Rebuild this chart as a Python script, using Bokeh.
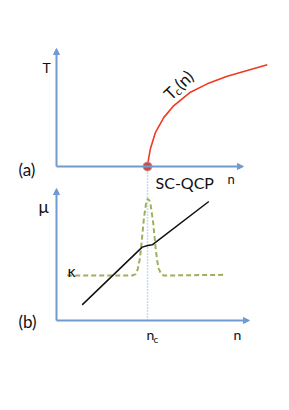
import math
from bokeh.plotting import figure
from bokeh.models import Range1d, Arrow, NormalHead
from bokeh.core.properties import value
from bokeh.embed import file_html
from bokeh.resources import INLINE

# ---------------- data (schematic units) ----------------
n_c = 5.0
# panel (a): Tc(n) curve
tc_n = [5.00, 5.07, 5.16, 5.44, 5.90, 6.45, 7.36, 8.28, 9.38, 10.48, 11.58]
tc_T = [0.00, 0.49, 0.98, 1.88, 2.70, 3.35, 4.08, 4.54, 4.96, 5.27, 5.59]
# panel (b): chemical potential mu(n)
mu_n = [1.41, 4.71, 5.02, 5.26, 8.37]
mu_v = [0.86, 4.03, 4.12, 4.16, 6.54]
# panel (b): compressibility kappa(n)
ka_n = [0.59, 4.16, 4.35, 4.47, 4.58, 4.65, 4.80, 4.93, 5.00, 5.10, 5.16, 5.31, 5.44, 5.53, 5.62, 5.75, 5.90, 9.19]
ka_v = [2.47, 2.47, 2.55, 2.84, 3.40, 4.03, 5.59, 6.50, 6.69, 6.60, 6.41, 5.40, 4.03, 3.30, 2.84, 2.56, 2.47, 2.51]
# axis extents
a_n_max, a_T_max = 10.27, 6.48
b_n_max, b_mu_max = 10.60, 7.25

# ---------------- layout ----------------
U = 18.2            # px per unit
A_OFF = 154 / U     # vertical offset of panel (a)
FONT = value("Lato")
AX = "#6f9bd0"

p = figure(width=281, height=402, output_backend="svg", toolbar_location=None,
           x_range=Range1d(-56 / U, 225 / U), y_range=Range1d(-82 / U, 320 / U),
           min_border=0, outline_line_color=None)
p.axis.visible = False
p.grid.visible = False

def arrow(x0, y0, x1, y1):
    p.add_layout(Arrow(end=NormalHead(size=6, fill_color=AX, line_color=AX),
                       x_start=x0, y_start=y0, x_end=x1, y_end=y1,
                       line_color=AX, line_width=2))

# axes
arrow(0, A_OFF, 0, A_OFF + a_T_max)
arrow(0, A_OFF, a_n_max, A_OFF)
arrow(0, 0, 0, b_mu_max)
arrow(0, 0, b_n_max, 0)

# dotted critical line
p.line([n_c, n_c], [0, A_OFF - 0.2], line_color="#8fb3de", line_width=1.5, line_dash="1 2")

# curves
p.line(tc_n, [t + A_OFF for t in tc_T], line_color="#ef3a23", line_width=1.6)
p.line(ka_n, ka_v, line_color="#9bb15e", line_width=2, line_dash="5 3")
p.line(mu_n, mu_v, line_color="#111111", line_width=1.5)
p.scatter([n_c], [A_OFF], size=9, fill_color="#c0504d", line_color="#d88a88", line_width=1)

def txt(x, y, s, size, **kw):
    p.text([x], [y], text=[s], text_font=FONT, text_font_size=value(size),
           text_color="#111111", text_baseline="alphabetic", **kw)

txt(-0.77, 13.90, "T", "14px")
txt(-2.09, 8.30, "(a)", "17px")
txt(5.44, 7.58, "SC-QCP", "16px")
txt(9.40, 7.75, "n", "13px")
txt(-0.99, 6.26, "μ", "17px")
txt(0.60, 2.75, "κ", "16px")
txt(-2.09, -0.05, "(b)", "17px")
txt(4.95, -0.77, "n", "14px")
txt(5.33, -0.99, "c", "10px")
txt(9.73, -0.77, "n", "14px")

# rotated Tc(n) label
ang = math.radians(44)
ca, sa = math.cos(ang), math.sin(ang)
tx, ty = 6.04, 12.31
def rtxt(s, size, along, perp):
    xo = along * ca + perp * sa
    yo = -(along * sa) + perp * ca
    p.text([tx], [ty], text=[s], text_font=FONT, text_font_size=value(size),
           text_color="#111111", text_baseline="alphabetic", angle=ang,
           x_offset=xo, y_offset=yo)
rtxt("T", "17px", 0, 0)
rtxt("c", "11px", 9, 4)
rtxt("(n)", "17px", 15, 0)

open("out.html", "w").write(file_html(p, INLINE))
